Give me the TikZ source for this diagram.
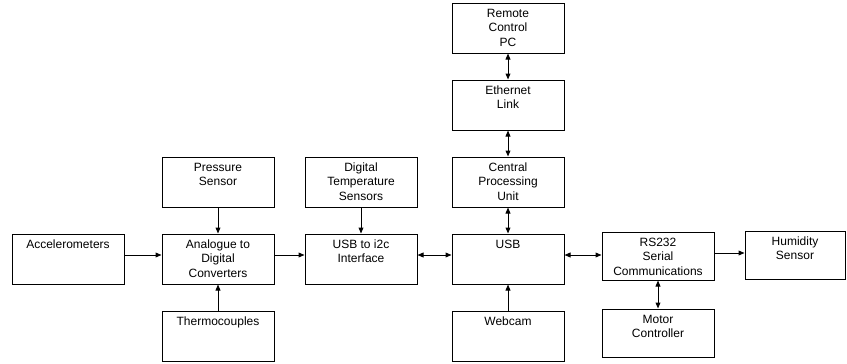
\documentclass[tikz,border=0pt]{standalone}
\usepackage{fontspec}
\setmainfont{Liberation Sans}
\usetikzlibrary{arrows.meta}
\newcommand{\btxt}[3]{\parbox[c][#2][t]{#1}{\centering\fontsize{9pt}{10.9pt}\selectfont\rule{0pt}{10.6pt}#3}}
\begin{document}
\begin{tikzpicture}[x=0.75pt,y=-0.75pt,
  box/.style={draw=black, line width=0.75pt, inner sep=0pt, minimum width=84pt, minimum height=37.5pt},
  con/.style={line width=0.75pt, -{Triangle[length=4.5pt,width=3.6pt]}},
  bicon/.style={line width=0.75pt, {Triangle[length=4.5pt,width=3.6pt]}-{Triangle[length=4.5pt,width=3.6pt]}}]
\useasboundingbox[fill=white] (0,0) rectangle (847,364);
% column centres 68 218 361 508 658 ; row centres 28 105 182 259 336
\node[box] (pc)   at (508,28)  {\btxt{84pt}{37.5pt}{Remote\\Control\\PC}};
\node[box] (eth)  at (508,105) {\btxt{84pt}{37.5pt}{Ethernet\\Link}};
\node[box] (cpu)  at (508,182) {\btxt{84pt}{37.5pt}{Central\\Processing\\Unit}};
\node[box] (usb)  at (508,259) {\btxt{84pt}{37.5pt}{USB}};
\node[box] (web)  at (508,336) {\btxt{84pt}{37.5pt}{Webcam}};
\node[box] (pres) at (218,182) {\btxt{84pt}{37.5pt}{Pressure\\Sensor}};
\node[box] (dts)  at (361,182) {\btxt{84pt}{37.5pt}{Digital\\Temperature\\Sensors}};
\node[box] (acc)  at (68,259)  {\btxt{84pt}{37.5pt}{Accelerometers}};
\node[box] (adc)  at (218,259) {\btxt{84pt}{37.5pt}{Analogue to\\Digital\\Converters}};
\node[box] (i2c)  at (361,259) {\btxt{84pt}{37.5pt}{USB to i2c\\Interface}};
\node[box] (thc)  at (218,336) {\btxt{84pt}{37.5pt}{Thermocouples}};
\node[box, minimum height=36pt] (rs) at (658,256) {\btxt{84pt}{36pt}{RS232\\Serial\\Communications}};
\node[box, minimum height=36pt] (mot) at (658,333) {\btxt{84pt}{36pt}{Motor\\Controller}};
\node[box, minimum width=75pt, minimum height=36pt] (hum) at (795,255) {\btxt{75pt}{36pt}{Humidity\\Sensor}};
% connectors
\draw[con] ([yshift=3pt]acc.east) -- ([yshift=3pt]adc.west);
\draw[con] (pres) -- (adc);
\draw[con] (thc) -- (adc);
\draw[con] ([yshift=3pt]adc.east) -- ([yshift=3pt]i2c.west);
\draw[con] (dts) -- (i2c);
\draw[bicon] ([yshift=3pt]i2c.east) -- ([yshift=3pt]usb.west);
\draw[bicon] (cpu) -- (usb);
\draw[con] (web) -- (usb);
\draw[bicon] (eth) -- (cpu);
\draw[bicon] (pc) -- (eth);
\draw[bicon] ([yshift=3pt]usb.east) -- ([yshift=0.75pt]rs.west);
\draw[con] ([yshift=2.25pt]rs.east) -- ([yshift=2.25pt]rs.east -| hum.west);
\draw[bicon] (rs) -- (mot);
\end{tikzpicture}
\end{document}
